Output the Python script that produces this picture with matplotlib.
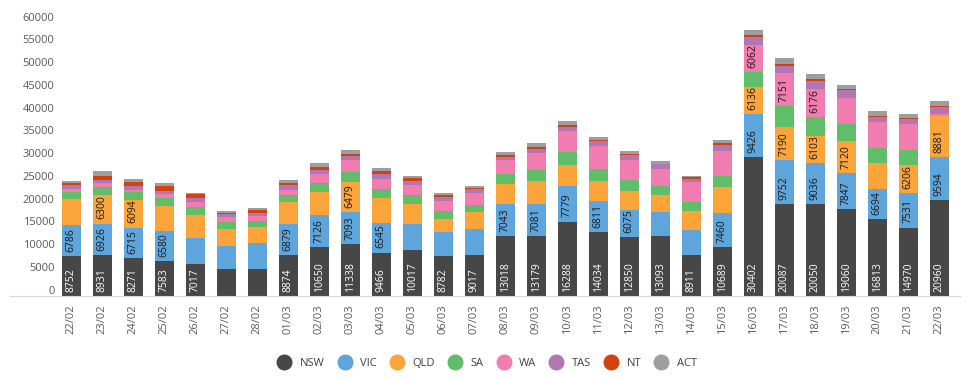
import matplotlib
matplotlib.use("Agg")
import matplotlib.pyplot as plt
import matplotlib.transforms as mtransforms
from matplotlib.lines import Line2D
import numpy as np

plt.rcParams['font.family'] = ['Open Sans', 'DejaVu Sans']

dates = ["22/02", "23/02", "24/02", "25/02", "26/02", "27/02", "28/02",
         "01/03", "02/03", "03/03", "04/03", "05/03", "06/03", "07/03",
         "08/03", "09/03", "10/03", "11/03", "12/03", "13/03", "14/03",
         "15/03", "16/03", "17/03", "18/03", "19/03", "20/03", "21/03", "22/03"]

nsw = [8752, 8931, 8271, 7583, 7017, 5950, 5800, 8874, 10650, 11338, 9466, 10017, 8782, 9017,
       13018, 13179, 16288, 14034, 12850, 13093, 8911, 10689, 30402, 20087, 20050, 19060, 16813, 14970, 20960]
vic = [6786, 6926, 6715, 6580, 5740, 5070, 5850, 6879, 7126, 7093, 6545, 5810, 5140, 5590,
       7043, 7081, 7779, 6811, 6075, 5360, 5590, 7460, 9426, 9752, 9036, 7847, 6694, 7531, 9594]
qld = [5810, 6300, 6094, 5590, 4990, 3580, 3350, 4770, 4920, 6479, 5360, 4250, 2980, 3870,
       4540, 4920, 4690, 4320, 4100, 3730, 4100, 5810, 6136, 7190, 6103, 7120, 5720, 6206, 8881]
sa = [1415, 1790, 1640, 1710, 1790, 1490, 1340, 1560, 2160, 2310, 2160, 2010, 1710, 1490,
      2240, 2380, 2760, 2610, 2310, 2010, 2010, 2380, 3130, 4700, 4030, 3670, 3150, 3300, 0]
wa = [700, 745, 600, 900, 1120, 1120, 1190, 1120, 1860, 2530, 2010, 2240, 2240, 2610,
      2900, 3870, 4690, 5210, 4470, 3730, 4320, 5440, 6062, 7151, 6176, 5860, 5720, 5640, 500]
tas = [800, 745, 745, 745, 900, 745, 745, 1040, 820, 900, 1120, 970, 745, 900,
       745, 900, 970, 970, 1120, 970, 745, 1270, 1790, 1690, 1830, 1610, 1250, 1100, 1550]
nt = [550, 970, 900, 970, 745, 220, 520, 520, 745, 600, 745, 520, 520, 220,
      520, 370, 370, 300, 300, 100, 370, 600, 370, 370, 370, 220, 100, 290, 270]
act = [450, 900, 670, 745, 370, 450, 450, 600, 970, 670, 600, 600, 370, 370,
       670, 900, 820, 670, 600, 670, 300, 520, 1040, 1250, 1100, 950, 1100, 880, 1030]

states = ["NSW", "VIC", "QLD", "SA", "WA", "TAS", "NT", "ACT"]
series = [nsw, vic, qld, sa, wa, tas, nt, act]
colors = ["#474747", "#5DA5DA", "#FAA43A", "#60BD68", "#F17CB0", "#B276B2", "#D2420F", "#9E9E9E"]

W, H = 966, 379
fig = plt.figure(figsize=(W / 100, H / 100), dpi=100)
# axes box in pixels: left 10, right 960, bottom y=295.7, top y=22.7
ax = fig.add_axes([10 / W, (H - 295.7) / H, 950 / W, 273 / H])

x = np.arange(len(dates))
bottom = np.zeros(len(dates))
for name, vals, col in zip(states, series, colors):
    vals = np.array(vals, dtype=float)
    ax.bar(x, vals, 0.613, bottom=bottom, color=col, linewidth=0, label=name)
    for i in range(len(x)):
        if vals[i] >= 6000:
            ax.annotate(str(int(vals[i])), (x[i], bottom[i]), xytext=(0, 3),
                        textcoords="offset points", rotation=90, ha="center", va="bottom",
                        fontsize=7.5, color="white" if name == "NSW" else "#1a1a1a")
    bottom += vals

ax.set_xlim(-1.98, 28.67)
ax.set_ylim(0, 60000)
ax.set_yticks(np.arange(0, 60001, 5000))
ax.set_yticklabels([str(v) for v in range(0, 60001, 5000)])
ax.set_xticks(x)
ax.set_xticklabels(dates, rotation=90)
ax.tick_params(axis="y", length=0, pad=-32, labelsize=8, labelcolor="#595959")
ax.tick_params(axis="x", length=0, pad=6, labelsize=8, labelcolor="#595959")
shift = mtransforms.ScaledTranslation(0, 6 / 100, fig.dpi_scale_trans)
for lab in ax.get_yticklabels():
    lab.set_transform(lab.get_transform() + shift)

for s in ["top", "right", "left"]:
    ax.spines[s].set_visible(False)
ax.spines["bottom"].set_color("#d9d9d9")

handles = [Line2D([], [], marker="o", linestyle="", markersize=10.5, color=c) for c in colors]
fig.legend(handles, states, loc="center", bbox_to_anchor=(0.505, 16 / H), ncol=8,
           frameon=False, fontsize=8, handletextpad=0.9, columnspacing=1.3,
           labelcolor="#404040", handlelength=1.0)

fig.savefig("out.png", dpi=100)
